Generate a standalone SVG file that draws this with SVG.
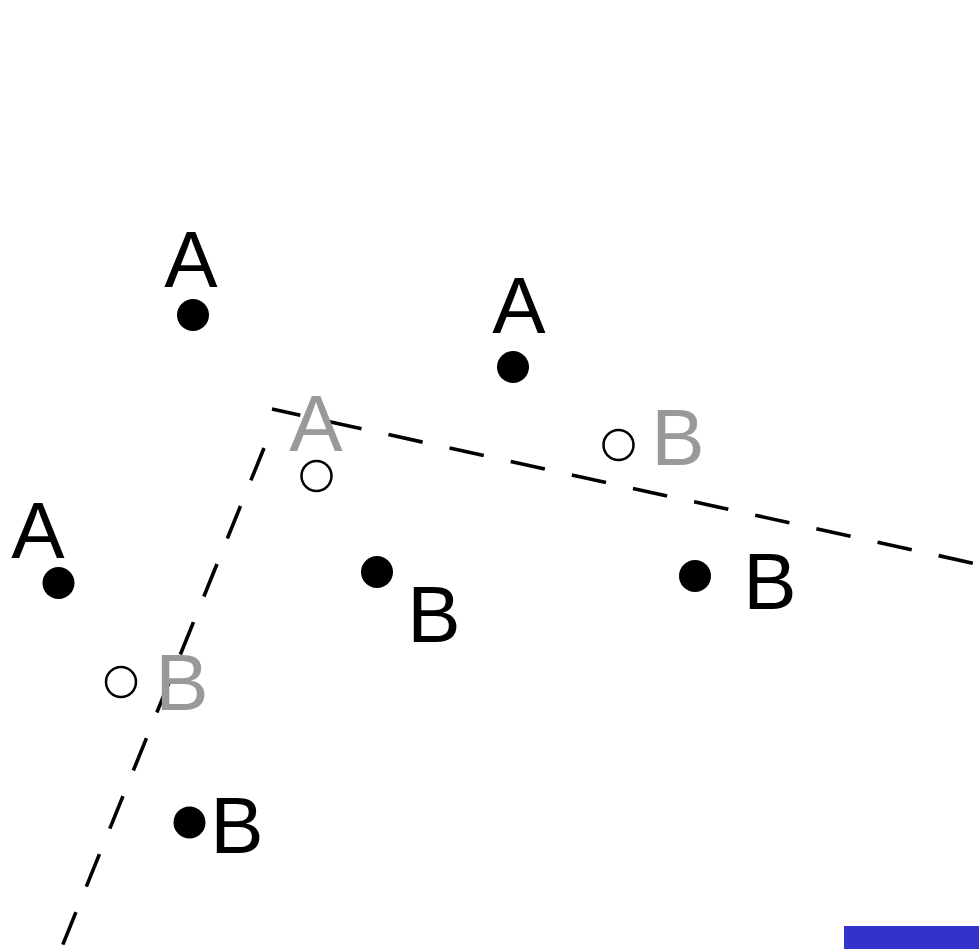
<svg xmlns="http://www.w3.org/2000/svg" width="979" height="949" viewBox="0 0 979 949">
  <style>
    .lbl { font-family: "Liberation Sans", Arial, sans-serif; font-size: 80px; text-anchor: middle; }
    .ink { fill: #000000; }
    .ghost { fill: #999999; }
    .pt { fill: #000000; }
    .img { fill: #ffffff; stroke: #000000; stroke-width: 2.5; }
    .axis { fill: none; stroke: #000000; stroke-width: 3.6; stroke-dasharray: 35 27.6; }
  </style>

  <rect x="0" y="0" width="979" height="949" fill="#ffffff"/>

  <!-- dashed mirror lines -->
  <g id="lines">
    <path class="axis" d="M272,409 L979,564.5" stroke-dashoffset="6"/>
    <path class="axis" d="M264,448 L59,954"/>
  </g>

  <!-- original points -->
  <g id="pointA1"><circle class="pt" cx="193" cy="315" r="16"/><text class="lbl ink" x="191" y="287">A</text></g>
  <g id="pointA2"><circle class="pt" cx="58.5" cy="583" r="16"/><text class="lbl ink" x="38" y="558">A</text></g>
  <g id="pointA3"><circle class="pt" cx="513" cy="367" r="16"/><text class="lbl ink" x="519" y="333">A</text></g>
  <g id="pointB1"><circle class="pt" cx="377" cy="572" r="16"/><text class="lbl ink" x="434" y="642">B</text></g>
  <g id="pointB2"><circle class="pt" cx="695" cy="576" r="16"/><text class="lbl ink" x="770" y="609">B</text></g>
  <g id="pointB3"><circle class="pt" cx="189.5" cy="822.5" r="16"/><text class="lbl ink" x="237" y="853">B</text></g>

  <!-- reflected (hollow) points -->
  <g id="imageA"><circle class="img" cx="316.5" cy="476" r="15"/><text class="lbl ghost" x="316" y="451">A</text></g>
  <g id="imageB1"><circle class="img" cx="618.5" cy="445" r="15"/><text class="lbl ghost" x="678" y="465">B</text></g>
  <g id="imageB2"><circle class="img" cx="121" cy="682" r="15"/><text class="lbl ghost" x="182" y="710">B</text></g>

  <!-- blue bar in the corner -->
  <rect id="bar" x="844" y="926" width="135" height="23" fill="#3333cc"/>
</svg>
